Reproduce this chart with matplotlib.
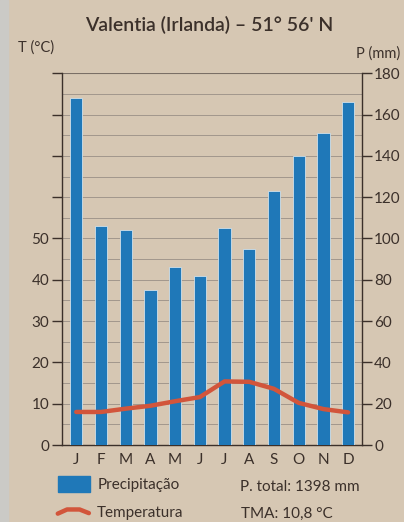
import numpy as np
import matplotlib.pyplot as plt
from matplotlib.patches import Rectangle
from matplotlib.lines import Line2D

months = ["J", "F", "M", "A", "M", "J", "J", "A", "S", "O", "N", "D"]
precip = [168, 106, 104, 75, 86, 82, 105, 95, 123, 140, 151, 166]
temp = [8.0, 8.0, 8.8, 9.5, 10.6, 11.6, 15.4, 15.3, 13.6, 10.2, 8.7, 7.9]
t_ticks = [0, 10, 20, 30, 40, 50]
p_ticks = [0, 20, 40, 60, 80, 100, 120, 140, 160, 180]

bg = "#d6c7b3"
ink = "#3b302a"
blue = "#1f78b8"
red = "#d2553b"

plt.rcParams["font.family"] = ["Lato", "DejaVu Sans"]

fig = plt.figure(figsize=(4.04, 5.22), dpi=100, facecolor=bg)
# grey edge of the scanned page
fig.patches.append(Rectangle((0, 0), 0.02, 1, transform=fig.transFigure,
                             color="#cbcac6", zorder=0))

ax = fig.add_axes([0.1527, 0.1475, 0.7426, 0.7121])
ax.set_facecolor(bg)
x = np.arange(len(months))

# precipitation on the right scale (mm); 2 mm = 1 °C
ax.bar(x, precip, width=0.5, color=blue, edgecolor="#cfe0ea",
       linewidth=0.6, zorder=3)
ax.set_ylim(0, 180)
ax.set_xlim(-0.59, 11.55)
for v in range(10, 180, 10):
    ax.axhline(v, color="#a2978c", lw=0.7, zorder=1)
ax.axhline(180, color="#7a6f66", lw=0.8, zorder=1)

ax.plot(x, np.array(temp) * 2, color=red, lw=3.2,
        solid_joinstyle="round", solid_capstyle="round", zorder=4)

ax.spines["top"].set_visible(False)
for s in ("left", "right", "bottom"):
    ax.spines[s].set_color(ink)
    ax.spines[s].set_linewidth(1.0)

ax.set_xticks(x)
ax.set_xticklabels(months)
ax.tick_params(axis="x", length=0, pad=6, labelsize=11, labelcolor=ink)

# left axis ticks every 20 mm, labels only 0..50 °C
ax.set_yticks(range(0, 181, 20))
ax.set_yticklabels([str(t) if t in t_ticks else "" for t in range(0, 91, 10)])
ax.tick_params(axis="y", which="both", left=True, right=True,
               labelleft=True, labelright=False, length=7, width=1.0,
               color=ink, labelsize=11, labelcolor=ink, pad=2)

ax2 = ax.twinx()
ax2.set_ylim(0, 180)
ax2.set_yticks(p_ticks)
ax2.tick_params(axis="y", length=7, width=1.0, color=ink,
                labelsize=11, labelcolor=ink, pad=2)
for s in ax2.spines.values():
    s.set_visible(False)

fig.text(0.517, 0.952, "Valentia (Irlanda) \u2013 51\u00b0 56' N", ha="center",
         va="center", fontsize=14, color=ink, fontweight="semibold")
fig.text(0.045, 0.908, "T (\u00b0C)", ha="left", va="center", fontsize=10.5,
         color=ink)
fig.text(0.99, 0.898, "P (mm)", ha="right", va="center", fontsize=10.5,
         color=ink)

# legend
fig.patches.append(Rectangle((0.143, 0.058), 0.08, 0.03,
                             transform=fig.transFigure, color=blue))
fig.lines.append(Line2D([0.143, 0.166, 0.197, 0.22], [0.016, 0.024, 0.024, 0.017],
                        transform=fig.transFigure, color=red, lw=3.2,
                        solid_capstyle="round"))
fig.text(0.242, 0.071, "Precipita\u00e7\u00e3o", ha="left", va="center",
         fontsize=11, color=ink)
fig.text(0.24, 0.018, "Temperatura", ha="left", va="center",
         fontsize=11, color=ink)
fig.text(0.595, 0.068, "P. total: 1398 mm", ha="left", va="center",
         fontsize=11, color=ink)
fig.text(0.597, 0.015, "TMA: 10,8 \u00b0C", ha="left", va="center",
         fontsize=11, color=ink)

fig.savefig("out.png", dpi=100, facecolor=bg)
